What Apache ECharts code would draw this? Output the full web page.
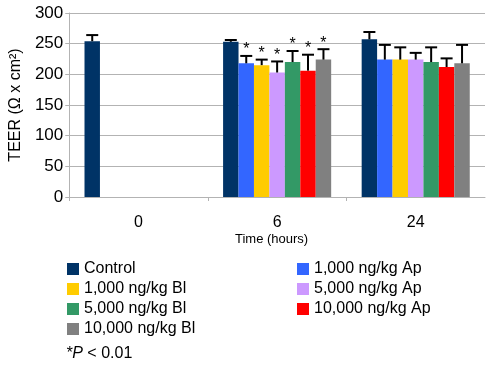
<!DOCTYPE html>
<html>
<head>
<meta charset="utf-8">
<script src="https://cdn.jsdelivr.net/npm/echarts@6/dist/echarts.min.js"></script>
<style>
  html, body { margin: 0; padding: 0; background: #fff; }
  #chart { width: 490px; height: 366px; }
</style>
</head>
<body>
<div id="chart"></div>
<script>
// 时间点 (hours)
const times = ['0', '6', '24']

// 各组均值 / 误差 / 显著性
const names = ['Control', '1,000 ng/kg Ap', '1,000 ng/kg Bl', '5,000 ng/kg Ap', '5,000 ng/kg Bl', '10,000 ng/kg Ap', '10,000 ng/kg Bl']
const colors = ['#003366', '#3366ff', '#ffcc00', '#cc99ff', '#339966', '#ff0000', '#808080']

const control = [254, 253, 257]
const controlErr = [10, 3, 12]
const ap1000 = [0, 218, 224]
const ap1000Err = [0, 12, 24]
const bl1000 = [0, 215, 224]
const bl1000Err = [0, 9, 20]
const ap5000 = [0, 203, 224]
const ap5000Err = [0, 18, 11]
const bl5000 = [0, 220, 220]
const bl5000Err = [0, 18, 24]
const ap10000 = [0, 206, 212]
const ap10000Err = [0, 26, 14]
const bl10000 = [0, 224, 218]
const bl10000Err = [0, 17, 30]
const sigFlags = [0, 1, 0] // * at 6 h for treatments

const values = [control, ap1000, bl1000, ap5000, bl5000, ap10000, bl10000]
const errors = [controlErr, ap1000Err, bl1000Err, ap5000Err, bl5000Err, ap10000Err, bl10000Err]

const gapRatio = 0.22
const font = 'Liberation Sans, Arial, sans-serif'

const errSeries = (idx) => ({
  type: 'custom',
  z: 5,
  data: times.map((t, i) => [i, values[idx][i], errors[idx][i], idx > 0 ? sigFlags[i] : 0]),
  renderItem (params, api) {
    const err = api.value(2)
    if (!err) return
    const band = api.size([1, 0])[0]
    const bw = band * (1 - gapRatio) / values.length
    const c = api.coord([api.value(0), api.value(1)])
    const x = c[0] - band * (1 - gapRatio) / 2 + (idx + 0.5) * bw
    const top = api.coord([api.value(0), api.value(1) + err])[1]
    const style = { stroke: '#000', lineWidth: 2 }
    const children = [
      { type: 'line', shape: { x1: x, y1: c[1], x2: x, y2: top }, style },
      { type: 'line', shape: { x1: x - 6, y1: top, x2: x + 6, y2: top }, style }
    ]
    if (api.value(3)) {
      children.push({
        type: 'text',
        style: { text: '*', x: x, y: top + 2, align: 'center', verticalAlign: 'bottom', fontSize: 16, fontFamily: font, fill: '#000' }
      })
    }
    return { type: 'group', children }
  }
})

const option = {
  backgroundColor: '#fff',
  animation: false,
  grid: { left: 67, right: 5, top: 13, bottom: 169 },
  legend: [
    {
      orient: 'vertical', left: 62, top: 256, itemWidth: 12, itemHeight: 12, itemGap: 4,
      icon: 'rect', textStyle: { fontSize: 16, fontFamily: font, color: '#000' },
      data: [names[0], names[2], names[4], names[6]]
    },
    {
      orient: 'vertical', left: 292, top: 256, itemWidth: 12, itemHeight: 12, itemGap: 4,
      icon: 'rect', textStyle: { fontSize: 16, fontFamily: font, color: '#000' },
      data: [names[1], names[3], names[5]]
    }
  ],
  graphic: [
    { type: 'text', left: 235, top: 233, style: { text: 'Time (hours)', fontSize: 13, fontFamily: font, fill: '#000' } },
    {
      type: 'text', left: 66, top: 346,
      style: {
        text: '{i|*P} < 0.01',
        fontSize: 16, fontFamily: font, fill: '#000',
        rich: { i: { fontStyle: 'italic', fontSize: 16, fontFamily: font } }
      }
    }
  ],
  xAxis: {
    type: 'category',
    data: times,
    axisLine: { lineStyle: { color: '#b3b3b3' } },
    axisTick: { show: true, length: 4, lineStyle: { color: '#b3b3b3' } },
    axisLabel: { fontSize: 16, fontFamily: font, color: '#000', margin: 18 }
  },
  yAxis: {
    type: 'value',
    min: 0, max: 300, interval: 50,
    name: 'TEER (Ω x cm²)',
    nameLocation: 'middle',
    nameGap: 44,
    nameTextStyle: { fontSize: 16, fontFamily: font, color: '#000' },
    axisLine: { show: true, lineStyle: { color: '#b3b3b3' } },
    axisTick: { show: true, length: 4, lineStyle: { color: '#b3b3b3' } },
    axisLabel: { fontSize: 17, fontFamily: font, color: '#000', margin: 6 },
    splitLine: { lineStyle: { color: '#b3b3b3' } }
  },
  series: [
    ...names.map((n, i) => ({
      name: n,
      type: 'bar',
      data: values[i],
      barGap: 0,
      barCategoryGap: gapRatio * 100 + '%',
      itemStyle: { color: colors[i] }
    })),
    ...names.map((n, i) => errSeries(i))
  ]
}

const chart = echarts.init(document.getElementById('chart'))
chart.setOption(option)
</script>
</body>
</html>
